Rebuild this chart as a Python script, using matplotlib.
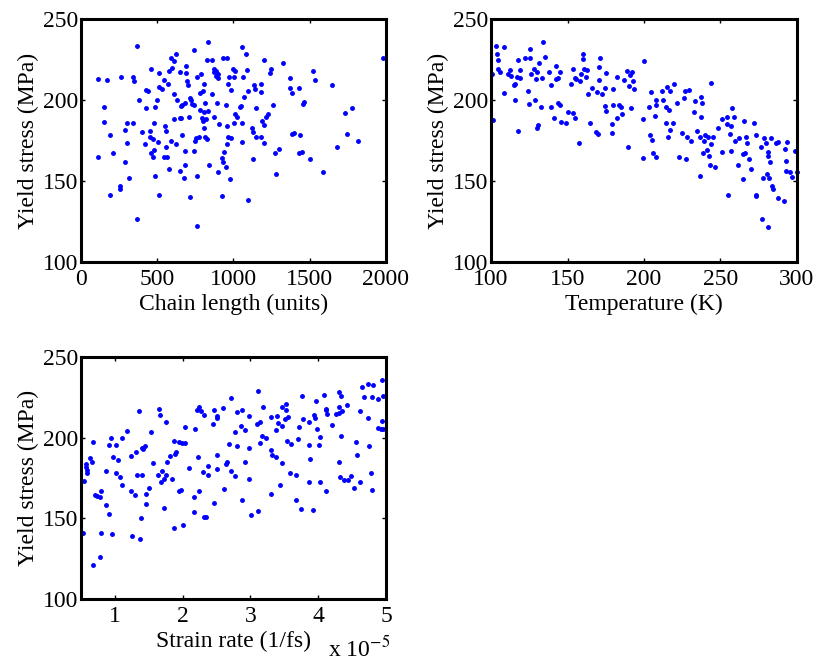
import numpy as np
import matplotlib
matplotlib.use("Agg")
import matplotlib.pyplot as plt

# yield stress vs chain length
chain_len = [365, 834, 742, 622, 591, 609, 600, 828, 861, 933, 957, 692, 462, 580, 648, 692, 512, 790,
             764, 874, 887, 870, 900, 883, 896, 996, 1009, 974, 1004, 112, 168, 265, 344, 346, 547, 569,
             698, 703, 806, 961, 512, 530, 427, 440, 379, 501, 613, 630, 779, 803, 861, 981, 712, 720,
             738, 725, 681, 664, 655, 815, 891, 949, 151, 425, 484, 783, 808, 836, 1009, 1025, 153, 300,
             342, 480, 613, 648, 659, 707, 795, 797, 821, 874, 907, 957, 1001, 291, 191, 401, 453, 550,
             556, 810, 451, 473, 418, 506, 589, 620, 664, 751, 753, 773, 813, 828, 966, 983, 957, 302,
             210, 558, 479, 458, 475, 545, 562, 681, 744, 939, 926, 112, 291, 841, 685, 652, 580, 930,
             954, 898, 313, 488, 677, 764, 979, 256, 254, 188, 510, 712, 928, 368, 764,
             1057, 1083, 1200, 1322, 1089, 1248, 1239, 1063, 1374, 1524, 1533, 1646, 1978, 1137, 1139,
             1180, 1180, 1093, 1374, 1383, 1430, 1067, 1050, 1041, 1150, 1261, 1465, 1457, 1776, 1730,
             1059, 1187, 1200, 1215, 1228, 1120, 1126, 1150, 1183, 1198, 1054, 1383, 1396, 1435, 1746,
             1817, 1680, 1274, 1296, 1433, 1450, 1504, 1130, 1280, 1585, 1096]
stress_chain = [233.3, 236, 231, 228.6, 226, 224, 220, 224.7, 225, 226, 226, 221, 219, 218, 217, 216.5,
                216.5, 216, 214, 219, 218, 217, 216, 215, 213.5, 219, 218, 214, 214, 213, 212.5, 214,
                214, 212, 212.6, 210, 212, 209, 210, 210, 208, 207, 206, 205.5, 200, 200, 204, 200,
                204.5, 205.5, 204, 206, 201, 200, 197, 197.5, 198, 197, 196, 198, 198, 197, 195.5,
                195, 195.5, 193.6, 192.6, 193.4, 191.5, 189.5, 186.4, 185.6, 185.6, 186, 188, 189, 189,
                189.7, 188.6, 187, 188, 189.7, 185, 184, 185.6, 181.4, 178.6, 180, 181, 184, 180.6,
                182.7, 177, 176, 172.8, 174, 174.4, 173, 178.6, 175, 176.3, 177.3, 177.3, 175.7, 177,
                176.5, 173, 173.4, 167.4, 171, 169.3, 167, 165, 165, 164.8, 168.5, 168.3, 168, 164.4,
                164.8, 162, 160, 159.6, 156.3, 157.4, 162, 158.6, 155.7, 151.8, 152.8, 151.6, 153, 151,
                146.7, 144.8, 141.5, 141.5, 140, 140.7, 126.7, 122,
                232.7, 228.4, 225, 223, 218.5, 219.3, 216.4, 214, 213.6, 217.7, 212.5, 209, 226, 209,
                206.8, 210, 205, 205.6, 207.4, 204.4, 207.4, 201.6, 196.5, 195.5, 195.3, 197, 199,
                197.5, 195.3, 192, 185.6, 187, 184.7, 189.7, 191.6, 183, 180, 177, 177.4, 173.3, 174,
                179, 179.6, 178.6, 179.2, 174.8, 171, 167.3, 169.5, 167.6, 167.8, 163.5, 163.5, 154.5,
                155.5, 138]

# yield stress vs temperature
temperature = [103.5, 108.3, 103.7, 104.6, 133.9, 125.4, 122.2, 125.4, 117.8, 135, 131.3, 104.8, 106,
               100.4, 112.6, 110.9, 113, 118.7, 117, 118.9, 127.8, 126.1, 129.9, 129.6, 133, 115.7, 115,
               137.8, 142.8, 145.4, 139.1, 142.6, 143.5, 159.8, 160.2, 153.7, 160.9, 163, 159.1, 161.9,
               154.8, 155.4, 158.3, 152.4, 171.3, 170.7, 170.9, 175.4, 182.6, 189.1, 192.4, 190.9, 186.7,
               192.8, 190.4, 200, 193.2, 108.3, 124.1, 115.9, 128.5, 124.6, 132.4, 139.1, 143.9, 144.8,
               150, 153.5, 154.8, 166.1, 163.5, 169.6, 172.8, 174.3, 180, 174.3, 174.9, 180, 183.9,
               185.2, 191.3, 185.4, 182.2, 178.9, 178.9, 164.8, 168.9, 169.8, 199.1, 101.3, 140.9,
               145.7, 148.7, 117.6, 130.9, 130, 157.8, 189.6, 199.6,
               204.8, 208, 207.6, 203.5, 207, 212, 215, 217.2, 219.3, 212.6, 214.3, 216.3, 221.5, 225.9,
               226.5, 229.3, 237, 233.3, 238, 243.7, 232.8, 237, 214.6, 219, 216.7, 203.9, 205, 215.9,
               225, 228.3, 230.9, 234.8, 236.9, 239.6, 239.4, 241.8, 245.2, 243.7, 241.1, 238.7, 242.6,
               205.6, 207.8, 223, 227.6, 243, 246.1, 236.5, 248.3, 250.7, 254, 257.6, 258.9, 254, 257,
               256.5, 265.2, 271.7, 273, 266.5, 262.2, 259.4, 267.3, 266.2, 264.9, 268.8, 251.3, 256.8,
               261.2, 270.2, 264.8, 255, 273.3, 273.1, 278.5, 276.5, 279.6, 283.3, 286.1, 287.4, 293.7,
               281.1, 281.1, 282.4, 280.2, 277.6, 282, 283.5, 284.4, 287.4, 291.3, 292, 298.5, 293,
               292.6, 295.6, 299.8, 297, 277.2, 281.3]
stress_temp = [233.1, 232.7, 228.6, 224.7, 236, 231.3, 226, 226, 224.9, 226.5, 223, 218.9, 217.5, 216.2,
               218.3, 216, 214.8, 218.7, 214.2, 213.8, 219.3, 216.2, 217.2, 212.7, 213.4, 210, 209, 217,
               221, 217.3, 209.3, 213.2, 213.8, 228.4, 225.1, 219.3, 219.3, 218.3, 216.2, 214.2, 213.8,
               213.2, 211.7, 210, 226, 220.4, 212.3, 216.5, 214.4, 218.1, 217, 215.6, 212.5, 211.5,
               208.8, 224.3, 206.8, 204.3, 205.8, 200.2, 200, 197.5, 195.9, 195.5, 198.3, 197.1, 192.8,
               191.8, 188.7, 207.4, 203.9, 204.7, 203.7, 207.4, 207, 196.5, 193.4, 196.7, 196.9, 195.7,
               195.3, 191.6, 188.9, 185.2, 179.8, 185.8, 180, 179.2, 188.3, 187.6, 189.1, 186.4, 185.6,
               180.6, 184.3, 182.5, 173.4, 171, 164.4,
               205, 200.2, 196.9, 195.5, 189.9, 205.6, 207.9, 205.8, 209.7, 200.2, 195.7, 194.1, 198.1,
               201.2, 205.3, 206.2, 201.6, 199.1, 197.9, 210.3, 192.4, 189.3, 185.6, 185.8, 181.5,
               178.6, 175.5, 177.3, 179.8, 176.9, 174.6, 180.8, 177.1, 178.6, 174.8, 177.3, 177.3,
               172.8, 169.1, 167.6, 165.2, 167.5, 164.6, 164.8, 163.6, 159.7, 158.6, 152.9, 182.9,
               188.3, 189.5, 195.1, 189.7, 184.9, 183.8, 179.2, 187, 185.6, 178.4, 176.9, 176.5, 174.5,
               173.3, 167.1, 166.6, 163.6, 167.7, 168.3, 160, 157.4, 151, 141.5, 141.3, 140.5, 176.3,
               171.2, 173.3, 176.5, 173.3, 174, 174, 167.7, 165.4, 161.9, 154.5, 151.6, 151.6, 146.7,
               144.8, 139.7, 137.8, 169.5, 168.3, 162.1, 156.4, 155.3, 155.7, 152.7, 126.7, 121.8]

# yield stress vs strain rate (x 1e-5)
strain_rate = [0.676, 0.78, 0.534, 0.80, 0.96, 1.25, 1.37, 1.39, 0.91, 0.87, 0.70, 0.735, 0.78, 0.80,
               0.544, 0.568, 0.574, 0.583, 0.588, 0.627, 0.667, 0.68, 0.87, 0.97, 1.05, 0.91, 1.01, 0.95,
               1.10, 1.18, 1.02, 1.07, 1.11, 1.235, 1.31, 1.35, 1.40, 1.42, 1.44, 1.33, 1.40, 1.235,
               1.29, 1.46, 1.46, 1.51, 1.53, 1.56, 1.65, 1.67, 1.76, 1.77, 1.82, 1.89, 1.90, 1.87, 1.94,
               1.985, 2.03, 1.64, 1.69, 1.75, 1.73, 1.68, 1.84, 1.73, 1.87, 2.005, 1.94, 1.975, 2.03,
               2.10, 2.17, 2.17, 2.18, 2.215, 2.24, 2.27, 2.31, 2.23, 2.24, 2.30, 2.32, 2.35, 2.37, 2.38,
               2.47, 2.50, 2.51, 2.45, 2.51, 2.51, 2.47, 2.60, 2.72, 2.77, 2.69, 2.65, 2.64, 2.71, 2.78,
               2.61, 2.80, 2.80,
               3.11, 3.19, 2.88, 2.98, 2.86, 2.92, 3.09, 3.14, 3.17, 3.23, 3.14, 2.98, 2.92, 2.985, 2.87,
               3.005, 3.11, 3.30, 3.38, 3.40, 3.39, 3.46, 3.53, 3.52, 3.55, 3.51, 3.47, 3.54, 3.60, 3.71,
               3.76, 3.78, 3.87, 3.70, 3.31, 3.32, 3.38, 3.46, 3.30, 3.43, 3.59, 3.67, 3.68, 3.75, 3.92,
               3.86, 3.87, 3.88, 3.94, 3.95, 3.97, 3.98, 4.03, 4.01, 4.02, 4.08, 4.11, 4.12, 4.13, 4.11,
               4.20, 4.27, 4.30, 4.31, 4.31, 4.33, 4.35, 4.43, 4.33, 4.30, 4.32, 4.38, 4.44, 4.49, 4.53,
               4.61, 4.56, 4.57, 4.62, 4.65, 4.67, 4.73, 4.74, 4.81, 4.80, 4.745, 4.78, 4.79, 4.89, 4.94,
               4.95, 4.94, 4.89, 4.93, 4.96]
stress_rate = [121.1, 126, 141, 141, 140, 139.1, 137, 150.3, 152.5, 158.1, 164.3, 164.1, 163.1, 166.8,
               173, 183.4, 181.7, 180.1, 178.4, 187.3, 185, 197.4, 179.4, 188.3, 185.9, 195.4, 195.2,
               199.7, 199.9, 204.1, 178.2, 175.5, 170.8, 188.8, 191.3, 216.3, 193.5, 193.1, 195, 177,
               177, 167, 164.3, 164.8, 159, 168.7, 203.7, 184.6, 218, 213.8, 209.7, 185.2, 188.6, 189.8,
               191.2, 197.9, 197.1, 196.6, 196.4, 177, 179.2, 176.8, 174.5, 172.4, 174.3, 156.7, 144.1,
               146.1, 167, 167.7, 206.8, 181.3, 163.1, 154, 205.5, 217.1, 218.8, 216.7, 214.2, 187.9,
               167.2, 178.8, 151.1, 151.1, 182.6, 176.8, 217.1, 213.4, 212.3, 208.6, 189, 180.5, 159.6,
               218.3, 224.3, 203.7, 196, 185.2, 183.4, 179.2, 176.3, 168.4, 195, 215.9,
               228.7, 219, 217.3, 213.4, 207, 204.5, 208.4, 209.9, 201.2, 199.7, 196.6, 193.5, 185.2,
               174.3, 161.2, 152.3, 154.8, 212.8, 204.9, 208.8, 213.4, 219, 220.8, 216.9, 212.8, 211.5,
               207, 198.1, 195.8, 206.6, 226, 211.3, 209.4, 198.9, 192.1, 189.4, 187.9, 184.2, 164.8,
               170.8, 178, 176.8, 161.4, 155.7, 155, 172.8, 195.6, 186.7, 214, 212.3, 222.9, 205.3,
               200.1, 195.2, 172.6, 226.2, 217.1, 217.9, 214.6, 166.8, 207.6, 214.4, 215.4, 218.8,
               228.5, 225.6, 216.5, 220.2, 200.8, 185.2, 175.9, 173.7, 173.7, 176.1, 169.1, 172.8,
               197.4, 189.4, 216.3, 231.2, 225, 212.1, 233.2, 232.6, 225, 194.8, 177.8, 167.7, 223.9,
               235.7, 225.8, 210.1, 205.7, 205.3, 205.1]

plt.rcParams['font.family'] = ['Liberation Serif', 'DejaVu Serif']
plt.rcParams['mathtext.fontset'] = 'stix'
plt.rcParams['font.size'] = 17

fig = plt.figure(figsize=(8.17, 6.65), dpi=100)
ax1 = fig.add_axes([0.0991, 0.606, 0.3733, 0.3654])
ax2 = fig.add_axes([0.601, 0.606, 0.3745, 0.3654])
ax3 = fig.add_axes([0.0991, 0.0992, 0.3733, 0.364])

panels = [
    (ax1, chain_len, stress_chain, (0, 2000), [0, 500, 1000, 1500, 2000], 'Chain length (units)'),
    (ax2, temperature, stress_temp, (100, 300), [100, 150, 200, 250, 300], 'Temperature (K)'),
    (ax3, strain_rate, stress_rate, (0.5, 5), [1, 2, 3, 4, 5], 'Strain rate (1/fs)'),
]

for ax, x, y, xl, xt, lab in panels:
    ax.plot(x, y, '.', color='#0000ff', markersize=5, clip_on=False)
    ax.set_xlim(*xl)
    ax.set_ylim(100, 250)
    ax.set_xticks(xt)
    ax.set_yticks([100, 150, 200, 250])
    ax.set_xlabel(lab, labelpad=3)
    ax.set_ylabel('Yield stress (MPa)', labelpad=3)
    ax.tick_params(direction='in', length=3, width=1, top=True, right=True, labelsize=17)
    ax.tick_params(axis='x', pad=5)
    ax.tick_params(axis='y', pad=2)
    for s in ax.spines.values():
        s.set_linewidth(2.2)

fig.text(0.4015, 0.024, r'x 10$^{-5}$', fontsize=17, ha='left', va='center')

fig.savefig('out.png', dpi=100)
